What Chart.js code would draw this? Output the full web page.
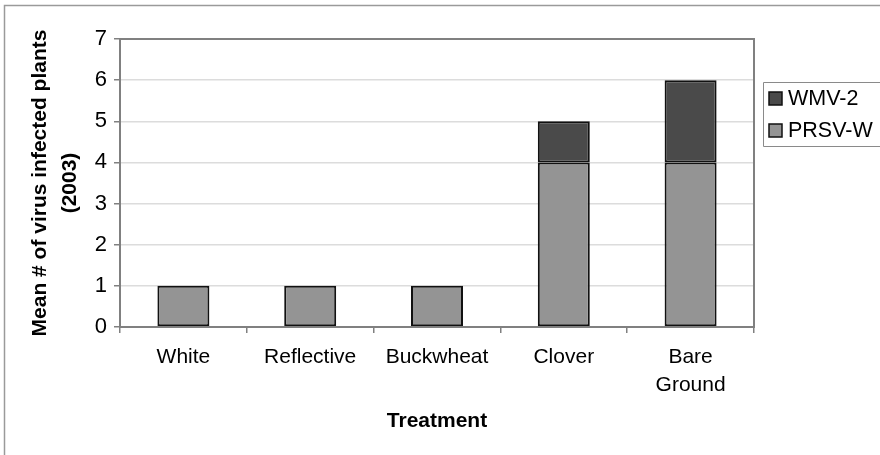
<!DOCTYPE html>
<html>
<head>
<meta charset="utf-8">
<script src="https://cdn.jsdelivr.net/npm/chart.js@4.4.0/dist/chart.umd.min.js"></script>
<style>
  html, body { margin: 0; padding: 0; background: #fff; }
</style>
</head>
<body>
<canvas id="grafico" width="880" height="455"></canvas>
<script>
const categorias = ["White", "Reflective", "Buckwheat", "Clover", ["Bare", "Ground"]];
const valoresPRSV = [1, 1, 1, 4, 4];
const valoresWMV = [0, 0, 0, 1, 2];
const ticksY = [0, 1, 2, 3, 4, 5, 6, 7];

Chart.defaults.font.family = "'Liberation Sans', Arial, sans-serif";
Chart.defaults.color = "#000";

// moldura externa, borda da área do gráfico e legenda com caixa
const moldura = {
  id: "moldura",
  beforeDraw(chart) {
    const ctx = chart.ctx;
    ctx.save();
    ctx.fillStyle = "#fff";
    ctx.fillRect(0, 0, chart.width, chart.height);
    ctx.strokeStyle = "#9a9a9a";
    ctx.lineWidth = 1.5;
    ctx.beginPath();
    ctx.moveTo(4.5, chart.height);
    ctx.lineTo(4.5, 5.5);
    ctx.lineTo(chart.width, 5.5);
    ctx.stroke();
    ctx.restore();
  },
  afterDraw(chart) {
    const { ctx, chartArea: a } = chart;
    ctx.save();
    ctx.strokeStyle = "#808080";
    ctx.lineWidth = 2;
    ctx.strokeRect(a.left, a.top, a.right - a.left, a.bottom - a.top);

    // legenda
    const lx = a.right + 9;
    const ly = 82;
    ctx.strokeStyle = "#8a8a8a";
    ctx.lineWidth = 1;
    ctx.beginPath();
    ctx.moveTo(chart.width, ly + 0.5);
    ctx.lineTo(lx + 0.5, ly + 0.5);
    ctx.lineTo(lx + 0.5, ly + 64.5);
    ctx.lineTo(chart.width, ly + 64.5);
    ctx.stroke();

    const itens = chart.data.datasets.slice().reverse();
    ctx.font = "21.5px 'Liberation Sans', Arial, sans-serif";
    ctx.textBaseline = "middle";
    itens.forEach((ds, i) => {
      const cy = ly + 16 + i * 32;
      ctx.fillStyle = ds.backgroundColor;
      ctx.fillRect(lx + 6, cy - 6, 13, 13);
      ctx.strokeStyle = "#111";
      ctx.lineWidth = 1.5;
      ctx.strokeRect(lx + 6, cy - 6, 13, 13);
      ctx.fillStyle = "#000";
      ctx.fillText(ds.label, lx + 25, cy + 1);
    });
    ctx.restore();
  }
};

new Chart(document.getElementById("grafico").getContext("2d"), {
  type: "bar",
  data: {
    labels: categorias,
    datasets: [
      {
        label: "PRSV-W",
        data: valoresPRSV,
        backgroundColor: "#949494",
        borderColor: "#111",
        borderWidth: 2,
        borderSkipped: false,
        categoryPercentage: 1,
        barPercentage: 0.41
      },
      {
        label: "WMV-2",
        data: valoresWMV,
        backgroundColor: "#4a4a4a",
        borderColor: "#111",
        borderWidth: 2,
        borderSkipped: false,
        categoryPercentage: 1,
        barPercentage: 0.41
      }
    ]
  },
  options: {
    responsive: false,
    animation: false,
    devicePixelRatio: 1,
    layout: { padding: { left: 0, top: 39, right: 126, bottom: 21 } },
    plugins: {
      legend: { display: false },
      tooltip: { enabled: false }
    },
    scales: {
      x: {
        stacked: true,
        border: { display: false },
        grid: {
          drawOnChartArea: false,
          offset: true,
          tickLength: 6,
          tickColor: "#808080",
          lineWidth: 1.5
        },
        ticks: {
          padding: 11,
          maxRotation: 0,
          autoSkip: false,
          font: { size: 21, lineHeight: 1.3 },
          color: "#000"
        },
        title: {
          display: true,
          text: "Treatment",
          font: { size: 21, weight: "bold", lineHeight: 1.2 },
          padding: { top: 0, bottom: 0 },
          color: "#000"
        },
        afterFit(scale) { scale.height = 107; }
      },
      y: {
        stacked: true,
        min: 0,
        max: 7,
        border: { display: false },
        grid: {
          color: "#dcdcdc",
          tickColor: "#808080",
          tickLength: 6,
          lineWidth: 1.5
        },
        afterBuildTicks(scale) {
          scale.ticks = ticksY.map(v => ({ value: v }));
        },
        ticks: {
          padding: 7,
          font: { size: 22 },
          color: "#000"
        },
        title: {
          display: true,
          text: ["Mean # of virus infected plants", "(2003)"],
          font: { size: 21, weight: "bold", lineHeight: 1.42 },
          padding: { top: 25, bottom: 0 },
          color: "#000"
        },
        afterFit(scale) { scale.width = 120; }
      }
    }
  },
  plugins: [moldura]
});
</script>
</body>
</html>
